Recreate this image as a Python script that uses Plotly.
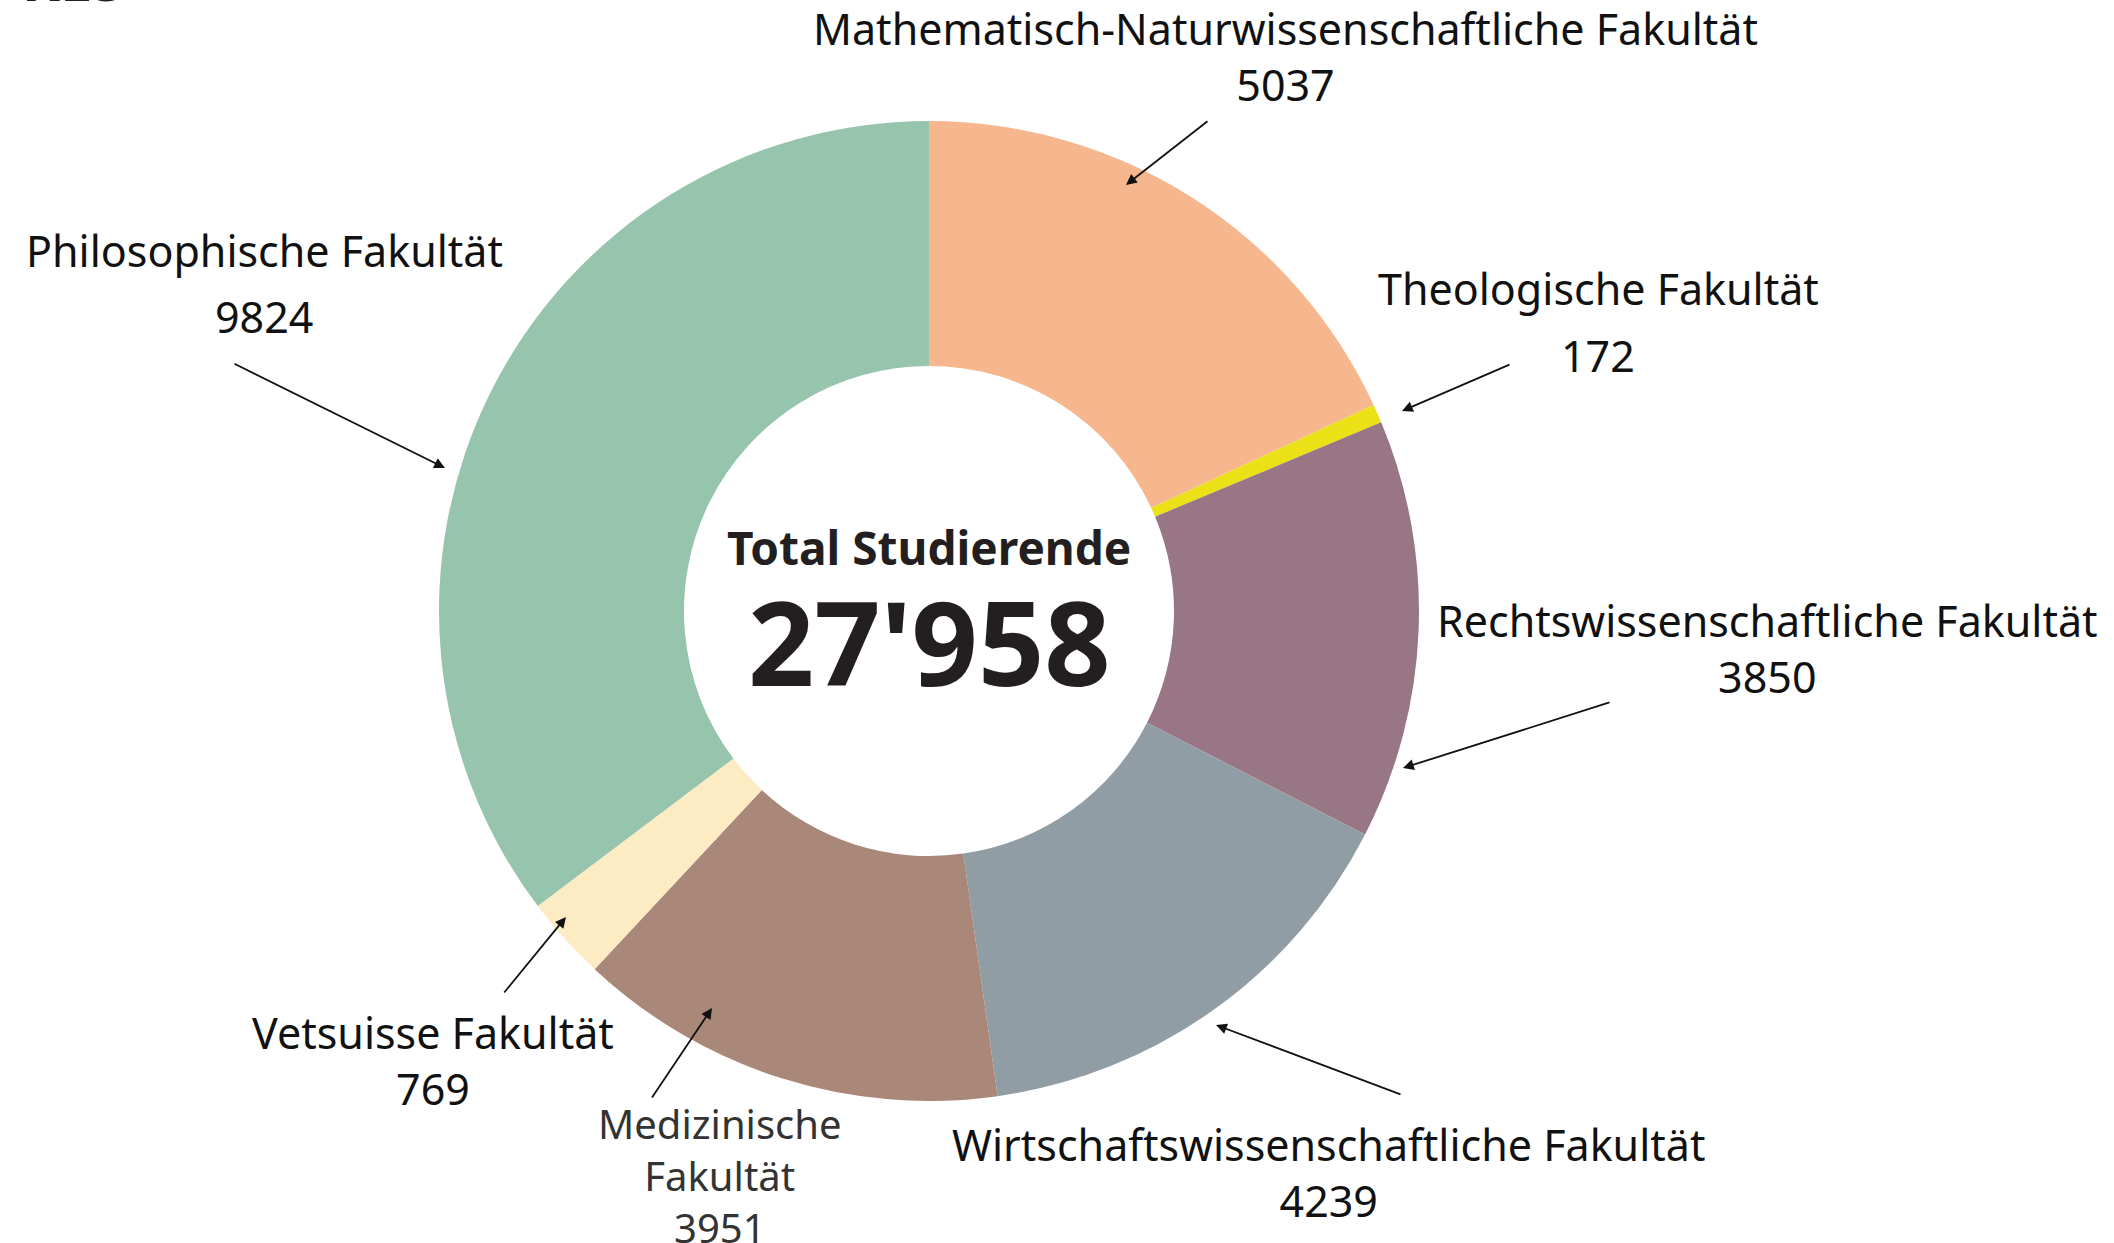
import plotly.graph_objects as go

W, H = 2114, 1243

faculties = [
    "Mathematisch-Naturwissenschaftliche Fakultät",
    "Theologische Fakultät",
    "Rechtswissenschaftliche Fakultät",
    "Wirtschaftswissenschaftliche Fakultät",
    "Medizinische Fakultät",
    "Vetsuisse Fakultät",
    "Philosophische Fakultät",
]
label_text = [
    "Mathematisch-Naturwissenschaftliche Fakultät",
    "Theologische Fakultät",
    "Rechtswissenschaftliche Fakultät",
    "Wirtschaftswissenschaftliche Fakultät",
    "Medizinische<br>Fakultät",
    "Vetsuisse Fakultät",
    "Philosophische Fakultät",
]
students = [5037, 172, 3850, 4239, 3951, 769, 9824]
colors = ["#F6B78F", "#EAE117", "#987685", "#919DA4", "#A98779", "#FDEBC3", "#96C4AC"]
total_label = "27'958"
center_title = "Total Studierende"

# label layout in pixels: combined = one block (name + value), else name y / value y separately
label_layout = [
    dict(x=1285, combined=True, y=57, head=(1126, 185), tail=(1209, 120), color="#111", size=43),
    dict(x=1598, combined=False, ly=288, vy=355, head=(1402, 411), tail=(1511, 364), color="#111", size=43),
    dict(x=1767, combined=True, y=648, head=(1403, 768), tail=(1611, 702), color="#111", size=43),
    dict(x=1328, combined=True, y=1172, head=(1216, 1025), tail=(1402, 1095), color="#111", size=43),
    dict(x=720, combined=True, y=1175, head=(712, 1008), tail=(651, 1099), color="#333", size=40),
    dict(x=433, combined=True, y=1060, head=(566, 917), tail=(503, 994), color="#111", size=43),
    dict(x=264, combined=False, ly=251, vy=317, head=(445, 468), tail=(233, 363), color="#111", size=43),
]

cx, cy, R = 929, 611, 490

fig = go.Figure(go.Pie(
    labels=faculties,
    values=students,
    sort=False,
    direction="clockwise",
    rotation=0,
    hole=0.5,
    marker=dict(colors=colors, line=dict(width=0)),
    textinfo="none",
    hoverinfo="label+value",
    domain=dict(x=[(cx - R) / W, (cx + R) / W], y=[1 - (cy + R) / H, 1 - (cy - R) / H]),
    showlegend=False,
))

FONT = "Noto Sans"

def px(x):
    return x / W

def py(y):
    return 1 - y / H

annotations = []
for txt, val, L in zip(label_text, students, label_layout):
    f = dict(family=FONT, size=L["size"], color=L["color"])
    if L["combined"]:
        annotations.append(dict(x=px(L["x"]), y=py(L["y"]), xref="paper", yref="paper",
                                text=txt + "<br>" + str(val),
                                showarrow=False, xanchor="center", yanchor="middle", font=f))
    else:
        annotations.append(dict(x=px(L["x"]), y=py(L["ly"]), xref="paper", yref="paper", text=txt,
                                showarrow=False, xanchor="center", yanchor="middle", font=f))
        annotations.append(dict(x=px(L["x"]), y=py(L["vy"]), xref="paper", yref="paper", text=str(val),
                                showarrow=False, xanchor="center", yanchor="middle", font=f))
    hx, hy = L["head"]
    tx, ty = L["tail"]
    annotations.append(dict(x=px(hx), y=py(hy), xref="paper", yref="paper", text="",
                            showarrow=True, ax=tx - hx, ay=ty - hy, axref="pixel", ayref="pixel",
                            arrowhead=2, arrowsize=1.2, arrowwidth=1.8, arrowcolor="#111"))

annotations.append(dict(x=px(cx), y=py(547), xref="paper", yref="paper", text="<b>" + center_title + "</b>",
                        showarrow=False, xanchor="center", yanchor="middle",
                        font=dict(family=FONT, size=46, color="#231F20")))
annotations.append(dict(x=px(cx), y=py(641), xref="paper", yref="paper", text="<b>" + total_label + "</b>",
                        showarrow=False, xanchor="center", yanchor="middle",
                        font=dict(family=FONT, size=116, color="#231F20")))
# clipped heading at the very top-left
annotations.append(dict(x=px(20), y=py(20), xref="paper", yref="paper", text="<b>RES</b>",
                        showarrow=False, xanchor="left", yanchor="bottom",
                        font=dict(family=FONT, size=58, color="#231F20")))

fig.update_layout(
    width=W, height=H,
    margin=dict(l=0, r=0, t=0, b=0),
    paper_bgcolor="white", plot_bgcolor="white",
    annotations=annotations,
)

fig.write_html("out.html", config={"displayModeBar": False},
               post_script="document.body.style.margin='0';document.body.style.overflow='hidden';")
